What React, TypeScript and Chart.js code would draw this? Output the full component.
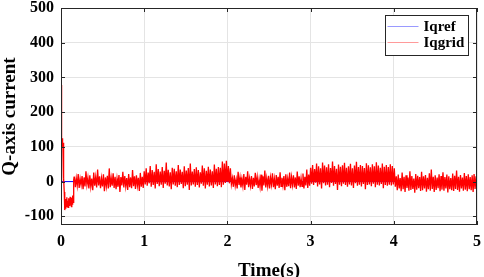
import { useEffect, useRef } from "react";
import { Chart, registerables } from "chart.js";

Chart.register(...registerables);

const xTickValues = [0, 1, 2, 3, 4, 5];
const yTickValues = [-100, 0, 100, 200, 300, 400, 500];
const seriesNames = ["Iqref", "Iqgrid"];

const iqrefTime = [0, 5];
const iqrefValue = [0, 0];

const transientTime = [
  0, 0.004, 0.007, 0.01, 0.013, 0.016, 0.019, 0.022, 0.025, 0.028, 0.031, 0.035, 0.039, 0.043,
  0.047, 0.051, 0.055, 0.06, 0.065, 0.07, 0.075, 0.08, 0.085, 0.09, 0.095, 0.1, 0.105, 0.11,
  0.115, 0.12, 0.125, 0.13, 0.135, 0.14, 0.145, 0.15, 0.155, 0.16,
];
const transientValue = [
  0, 278, 120, 105, 125, 98, 118, 100, 112, 95, 60, 10, -30, -60, -82, -70, -78, -50, -72, -45,
  -68, -55, -74, -48, -66, -52, -70, -44, -62, -58, -72, -47, -65, -40, -60, -30, 5, 14,
];

const segmentBounds = [
  [0.16, 1.0],
  [1.0, 2.06],
  [2.06, 3.0],
  [3.0, 4.03],
  [4.03, 5.0],
];

const seg1 = [
  14, -16, 10, -12, 22, -18, 8, -10, 16, -22, 12, -14, 30, -9, 11, -20, 18, -15, 9, -25, 26, -12,
  13, -17, 35, -11, 15, -19, 10, -14, 21, -28, 12, -13, 17, -20, 38, -16, 11, -12, 24, -18, 14,
  -22, 9, -15, 19, -30, 13, -11, 28, -17, 16, -14, 10, -24, 22, -16, 12, -19, 33, -13, 15, -21,
  18, -12, 11, -27, 25, -15, 14, -18,
];
const seg2 = [
  30, -8, 38, -12, 26, -5, 45, -15, 33, -10, 28, -20, 50, -7, 36, -13, 29, -9, 42, -18, 31, -6,
  55, -11, 34, -14, 27, -22, 40, -8, 37, -12, 30, -16, 48, -10, 35, -7, 28, -19, 44, -13, 32, -9,
  39, -24, 52, -11, 29, -8, 36, -15, 41, -10, 33, -17, 27, -6, 46, -12, 38, -20, 31, -9, 43, -14,
  35, -11, 30, -18, 49, -8, 37, -13, 42, -10, 40, -16, 58, -9, 52, -4, 60, 0, 45, -5, 38, -8,
];
const seg3 = [
  10, -15, 18, -12, 6, -20, 28, -10, 12, -17, 8, -13, 22, -24, 14, -9, 30, -16, 9, -12, 16, -21,
  11, -14, 25, -10, 13, -18, 7, -15, 20, -26, 15, -11, 32, -17, 10, -13, 17, -20, 12, -9, 24, -16,
  8, -22, 19, -12, 14, -18, 27, -14, 11, -11, 16, -25, 21, -15, 9, -13, 26, -19, 13, -10, 18, -17,
  12, -21, 29, -12, 15, -16, 10, -14, 23, -20, 14, -11, 35, -18, 20, -12,
];
const seg4 = [
  40, -6, 48, -10, 36, -3, 52, -14, 44, -8, 38, -20, 55, -5, 46, -11, 41, -9, 50, -16, 39, -4, 58,
  -12, 45, -7, 37, -24, 49, -9, 43, -13, 47, -6, 54, -10, 40, -15, 44, -8, 51, -11, 38, -18, 46,
  -5, 57, -12, 42, -9, 48, -14, 45, -7, 39, -22, 53, -10, 47, -8, 41, -13, 50, -6, 44, -16, 56,
  -9, 46, -11, 40, -7, 52, -19, 43, -10, 48, -12, 42, -9, 50, -11, 45, -8, 38, -15,
];
const seg5 = [
  15, -25, 20, -20, 10, -28, 26, -22, 14, -30, 18, -18, 12, -26, 30, -24, 16, -21, 9, -32, 22,
  -23, 17, -19, 13, -27, 28, -25, 15, -20, 19, -29, 11, -22, 24, -26, 35, -21, 14, -30, 18, -24,
  12, -19, 21, -28, 16, -23, 27, -26, 13, -20, 20, -31, 15, -22, 10, -25, 23, -27, 17, -21, 32,
  -24, 14, -29, 19, -20, 12, -26, 25, -23, 16, -28, 21, -22, 13, -25, 18, -30, 22, -21, 15, -27,
];
const segments = [seg1, seg2, seg3, seg4, seg5];

const FONT = '"Liberation Serif", "Times New Roman", serif';

function buildTransientPoints() {
  return transientTime.map((t, i) => ({ x: t, y: transientValue[i] }));
}

function buildNoisePoints() {
  const pts: { x: number; y: number }[] = [];
  segments.forEach((seg, s) => {
    const [a, b] = segmentBounds[s];
    const n = s === segments.length - 1 ? seg.length - 1 : seg.length;
    seg.forEach((v, i) => pts.push({ x: a + ((b - a) * i) / n, y: v }));
  });
  return pts;
}

const framePlugin = {
  id: "frameAndLegend",
  afterDraw(chart: any) {
    const { ctx, chartArea } = chart;
    const { left, top, right, bottom } = chartArea;
    const xs = chart.scales.x;
    const ys = chart.scales.y;
    ctx.save();
    ctx.strokeStyle = "#262626";
    ctx.lineWidth = 1;
    ctx.strokeRect(Math.round(left) + 0.5, Math.round(top) + 0.5, Math.round(right - left) - 1, Math.round(bottom - top) - 1);
    ctx.beginPath();
    xTickValues.forEach((v) => {
      const px = Math.round(xs.getPixelForValue(v)) + 0.5;
      ctx.moveTo(px, bottom);
      ctx.lineTo(px, bottom - 4);
      ctx.moveTo(px, top);
      ctx.lineTo(px, top + 4);
    });
    yTickValues.forEach((v) => {
      const py = Math.round(ys.getPixelForValue(v)) + 0.5;
      ctx.moveTo(left, py);
      ctx.lineTo(left + 4, py);
      ctx.moveTo(right, py);
      ctx.lineTo(right - 4, py);
    });
    ctx.stroke();

    // legend
    const lw = 83;
    const lh = 40;
    const lx = Math.round(right - 9 - lw) + 0.5;
    const ly = Math.round(top + 7) + 0.5;
    ctx.fillStyle = "#ffffff";
    ctx.fillRect(lx, ly, lw, lh);
    ctx.strokeStyle = "#262626";
    ctx.strokeRect(lx, ly, lw, lh);
    const legendColors = ["#9a9aff", "#ff9a9a"];
    ctx.font = `bold 15px ${FONT}`;
    ctx.textBaseline = "middle";
    ctx.textAlign = "left";
    seriesNames.forEach((name, i) => {
      const yy = ly + 11 + i * 16;
      ctx.strokeStyle = legendColors[i];
      ctx.beginPath();
      ctx.moveTo(lx + 2, yy);
      ctx.lineTo(lx + 33, yy);
      ctx.stroke();
      ctx.fillStyle = "#000000";
      ctx.fillText(name, lx + 38, yy + 1);
    });
    ctx.restore();
  },
};

export default function App() {
  const ref = useRef<HTMLCanvasElement | null>(null);
  useEffect(() => {
    if (!ref.current) return;
    const chart = new Chart(ref.current, {
      type: "line",
      data: {
        datasets: [
          {
            label: seriesNames[0],
            data: iqrefTime.map((t, i) => ({ x: t, y: iqrefValue[i] })),
            borderColor: "#0000ff",
            borderWidth: 1,
            pointRadius: 0,
            order: 2,
          },
          {
            label: seriesNames[1],
            data: buildTransientPoints(),
            borderColor: "#ff0000",
            borderWidth: 1.3,
            pointRadius: 0,
            fill: false,
            order: 0,
          },
          {
            label: seriesNames[1],
            data: buildNoisePoints(),
            borderColor: "#ff0000",
            backgroundColor: "#ff0000",
            fill: "origin",
            borderWidth: 1.3,
            pointRadius: 0,
            order: 1,
          },
        ],
      },
      options: {
        animation: false,
        responsive: true,
        maintainAspectRatio: false,
        layout: { padding: 0 },
        plugins: { legend: { display: false }, tooltip: { enabled: false } },
        elements: { line: { tension: 0 } },
        scales: {
          x: {
            type: "linear",
            min: 0,
            max: 5,
            afterFit: (s: any) => {
              s.height = 52;
              s.paddingLeft = 0;
              s.paddingRight = 7;
            },
            afterBuildTicks: (s: any) => {
              s.ticks = xTickValues.map((v) => ({ value: v }));
            },
            ticks: { color: "#000", font: { family: FONT, size: 16, weight: "bold", lineHeight: 1 }, padding: 9, maxRotation: 0 },
            grid: { color: "#e4e4e4", drawTicks: false },
            border: { display: false },
            title: {
              display: true,
              text: "Time(s)",
              color: "#000",
              font: { family: FONT, size: 19, weight: "bold", lineHeight: 1 },
              padding: { top: 0, bottom: -4 },
            },
          },
          y: {
            type: "linear",
            min: -125,
            max: 500,
            afterFit: (s: any) => {
              s.width = 61;
              s.paddingTop = 8;
              s.paddingBottom = 0;
            },
            afterBuildTicks: (s: any) => {
              s.ticks = yTickValues.map((v) => ({ value: v }));
            },
            ticks: { color: "#000", font: { family: FONT, size: 16, weight: "bold", lineHeight: 1 }, padding: 7, includeBounds: false },
            grid: { color: "#e4e4e4", drawTicks: false },
            border: { display: false },
            title: {
              display: true,
              text: "Q-axis current",
              color: "#000",
              font: { family: FONT, size: 19, weight: "bold", lineHeight: 1 },
              padding: { top: 1, bottom: 0 },
            },
          },
        },
      },
      plugins: [framePlugin],
    });
    return () => chart.destroy();
  }, []);
  return (
    <div style={{ position: "absolute", left: 0, top: 0, width: 484, height: 277 }}>
      <canvas ref={ref} />
    </div>
  );
}
